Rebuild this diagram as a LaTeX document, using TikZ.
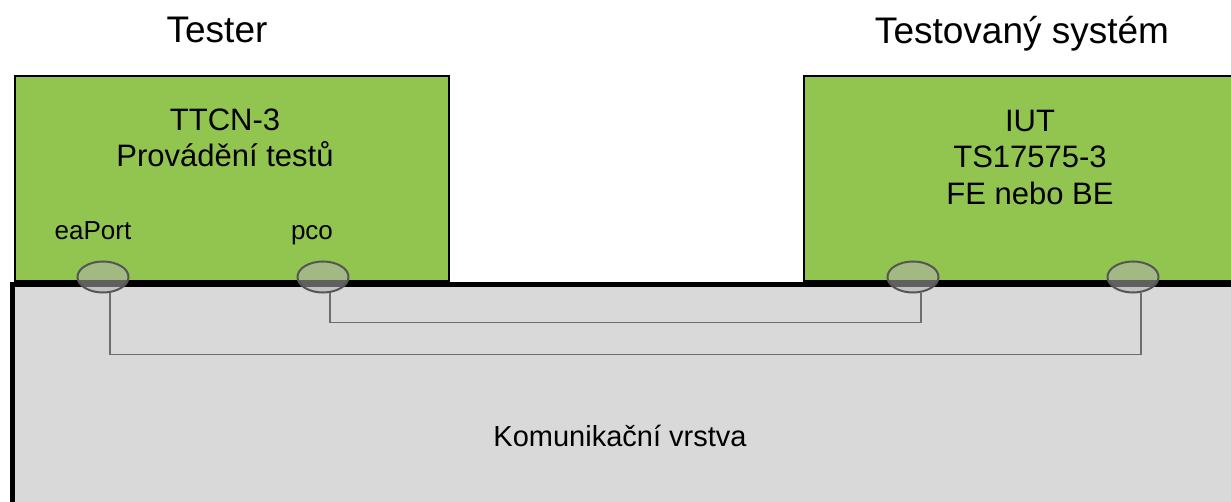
\documentclass[tikz,border=0pt]{standalone}
\usepackage{fontspec}
\setmainfont{Liberation Sans}
\usetikzlibrary{shapes.geometric}
\definecolor{boxgreen}{HTML}{92C550}
\definecolor{busgray}{HTML}{D9D9D9}
\definecolor{portedge}{HTML}{555555}
\definecolor{portfill}{HTML}{B0B0B0}
\definecolor{wirecol}{HTML}{6E6E6E}
\begin{document}
\begin{tikzpicture}[x=1pt,y=-1pt,
  greenbox/.style={draw=black, line width=1.6pt, fill=boxgreen, anchor=north west, inner sep=0pt},
  busbox/.style={draw=black, line width=5pt, fill=busgray, anchor=north west, inner sep=0pt},
  port/.style={ellipse, draw=portedge, line width=2pt, fill=portfill, fill opacity=0.55, minimum width=51pt, minimum height=31pt, inner sep=0pt},
  wire/.style={draw=wirecol, line width=1.8pt},
  title/.style={anchor=base, font=\fontsize{37}{44}\selectfont},
  boxtext/.style={anchor=base, font=\fontsize{31}{37}\selectfont},
  porttext/.style={anchor=base, font=\fontsize{26}{31}\selectfont},
  bustext/.style={anchor=base, font=\fontsize{29}{35}\selectfont}]
\useasboundingbox (0,0) rectangle (1231,502);
\clip (0,0) rectangle (1231,502);
\fill[white] (0,0) rectangle (1231,502);
% bus layer
\node[busbox, minimum width=1260pt, minimum height=260pt] (bus) at (10,282) {};
% boxes
\node[greenbox, minimum width=434pt, minimum height=205pt] (tester) at (14,75) {};
\node[greenbox, minimum width=460pt, minimum height=205pt] (sut) at (803,75) {};
% titles
\node[title] (t1) at (217,43) {Tester};
\node[title] (t2) at (1022,44) {Testovaný systém};
% box texts
\node[boxtext] (a1) at (225,131) {TTCN-3};
\node[boxtext] (a2) at (225,167) {Provádění testů};
\node[boxtext] (b1) at (1030,132) {IUT};
\node[boxtext] (b2) at (1030,168) {TS17575-3};
\node[boxtext] (b3) at (1030,205) {FE nebo BE};
\node[porttext] (l1) at (93,240) {eaPort};
\node[porttext] (l2) at (312,240) {pco};
\node[bustext] (bt) at (620,446) {Komunikační vrstva};
% ports
\node[port] (ea) at (103,277) {};
\node[port] (pco) at (323,277) {};
\node[port] (r1) at (913,277) {};
\node[port] (r2) at (1133,277) {};
% wires
\draw[wire] ([xshift=7pt]pco.south) -- ++(0,29) -| ([xshift=8pt]r1.south);
\draw[wire] ([xshift=7pt]ea.south) -- ++(0,61) -| ([xshift=8pt]r2.south);
\end{tikzpicture}
\end{document}
